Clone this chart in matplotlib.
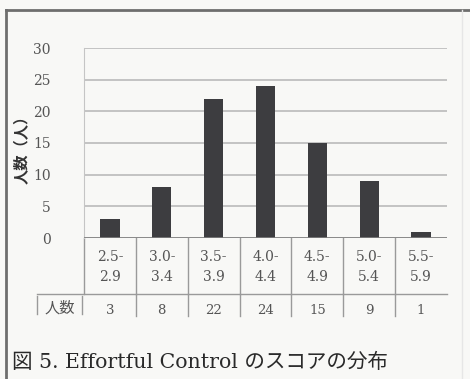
import numpy as np
import matplotlib.pyplot as plt
import matplotlib.transforms as mtransforms
from matplotlib.lines import Line2D

# 得点区分ごとの人数
bins_lo = ['2.5-', '3.0-', '3.5-', '4.0-', '4.5-', '5.0-', '5.5-']
bins_hi = ['2.9', '3.4', '3.9', '4.4', '4.9', '5.4', '5.9']
counts = [3, 8, 22, 24, 15, 9, 1]
yticks = [0, 5, 10, 15, 20, 25, 30]

W, H = 470, 379
serif = ['DejaVu Serif', 'Noto Sans CJK JP']
txt_col = '#555555'
line_col = '#9a9a9a'

fig = plt.figure(figsize=(W / 100, H / 100), dpi=100)
fig.patch.set_facecolor('#f8f8f6')

def fx(px):
    return px / W

def fy(py):
    return 1 - py / H

left, right, top, bottom = 84, 447, 48, 238
ax = fig.add_axes([fx(left), fy(bottom), fx(right - left), (bottom - top) / H])
ax.set_facecolor('none')

x = np.arange(len(counts))
ax.bar(x, counts, width=0.37, color='#3d3d40', zorder=3)
ax.set_xlim(-0.5, len(counts) - 0.5)
ax.set_ylim(0, 30)
ax.set_yticks(yticks)
ax.set_yticklabels([str(t) for t in yticks], family=serif, fontsize=10, color=txt_col)
ax.tick_params(axis='y', length=0, pad=24)
ax.set_xticks([])
for s in ['top', 'right', 'bottom']:
    ax.spines[s].set_visible(False)
ax.spines['left'].set_color('#c5c5c5')
ax.yaxis.grid(True, color='#b5b5b5', linewidth=1.1, zorder=0)
ax.axhline(0, color='#808080', linewidth=1.2, zorder=4)

# 下の表 (x はデータ座標, y は図座標)
tr = mtransforms.blended_transform_factory(ax.transData, fig.transFigure)
row1, row2 = 294, 316
for b in np.arange(-0.5, len(counts) - 0.5):
    ax.add_line(Line2D([b, b], [fy(bottom), fy(row1)], transform=tr,
                       color=line_col, lw=1, clip_on=False))
    if b > -0.5:
        ax.add_line(Line2D([b, b], [fy(row1), fy(row2)], transform=tr,
                           color=line_col, lw=1, clip_on=False))
fig.add_artist(Line2D([fx(37), fx(right)], [fy(row1), fy(row1)],
                      color=line_col, lw=1))
fig.add_artist(Line2D([fx(37), fx(37)], [fy(row1 + 2), fy(row2 - 2)],
                      color=line_col, lw=1))
fig.add_artist(Line2D([fx(82), fx(82)], [fy(row1 + 2), fy(row2 - 2)],
                      color=line_col, lw=1))

for i in range(len(counts)):
    ax.text(i, fy(257), bins_lo[i], transform=tr, ha='center', va='center',
            family=serif, fontsize=10, color=txt_col)
    ax.text(i, fy(277), bins_hi[i], transform=tr, ha='center', va='center',
            family=serif, fontsize=10, color=txt_col)
    ax.text(i, fy(310), str(counts[i]), transform=tr, ha='center', va='center',
            family=serif, fontsize=9.5, color=txt_col)
fig.text(fx(59.5), fy(308), '人数', ha='center', va='center',
         family='Noto Sans CJK JP', fontsize=11, color=txt_col)

fig.text(fx(22), fy(146), '人数（人）', rotation=90, ha='center', va='center',
         family='Noto Sans CJK JP', fontsize=11, fontweight='bold', color='#333333')

fig.text(fx(12), fy(362), '図 5. Effortful Control のスコアの分布', ha='left',
         va='center', family=serif, fontsize=14.8, color='#2a2a2a')

# 外枠
fig.add_artist(Line2D([fx(5.5), fx(5.5)], [fy(10), 0], color='#6e6e6e', lw=2))
fig.add_artist(Line2D([fx(5.5), 1], [fy(10), fy(10)], color='#6e6e6e', lw=2))
fig.add_artist(Line2D([fx(462), fx(462)], [fy(10), 0], color='#e6e6e6', lw=1))

fig.savefig('out.png', dpi=100, facecolor=fig.get_facecolor())
